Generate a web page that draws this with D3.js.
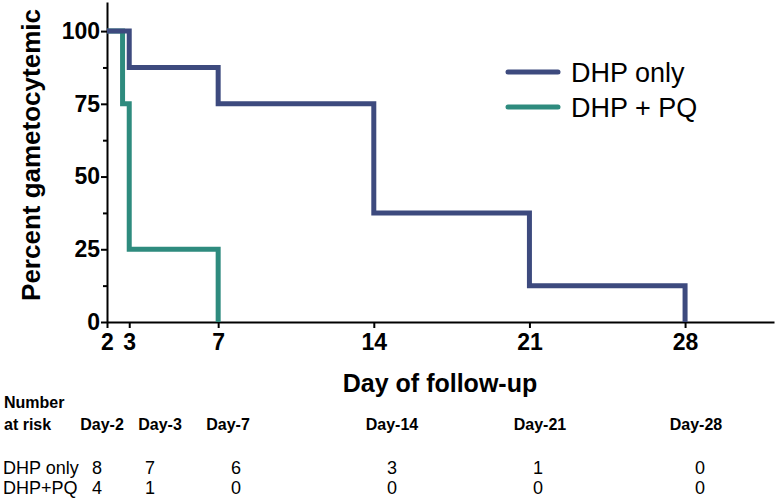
<!DOCTYPE html>
<html lang="en">
<head>
<meta charset="UTF-8">
<title>Gametocytemia follow-up</title>
<script src="https://cdn.jsdelivr.net/npm/d3@7"></script>
<style>
    body { margin: 0; background: #fff; }
    svg text { font-family: Arial, "Liberation Sans", Helvetica, sans-serif; fill: #000; }
    .axis path, .axis line { stroke: #000; stroke-width: 2px; }
    .axis text { font-size: 23px; font-weight: bold; }
</style>
</head>
<body>
<svg id="chart" width="776" height="499"></svg>
<script>
    // survival steps (day, percent)
    const dhpOnly = [[2, 100], [3, 87.5], [7, 75], [14, 37.5], [21, 12.5], [28, 0]];
    const dhpPq = [[2, 100], [2.7, 75], [3, 25], [7, 0]];
    const seriesNames = ["DHP only", "DHP + PQ"];
    const xTicks = [2, 3, 7, 14, 21, 28];
    const yTicks = [0, 25, 50, 75, 100];
    const yMinor = [12.5, 37.5, 62.5, 87.5];

    // number at risk table
    const riskDays = ["Day-2", "Day-3", "Day-7", "Day-14", "Day-21", "Day-28"];
    const riskGroups = ["DHP only", "DHP+PQ"];
    const riskDhp = [8, 7, 6, 3, 1, 0];
    const riskPq = [4, 1, 0, 0, 0, 0];

    const colors = ["#3d4a7e", "#2e8b7e"];

    const svg = d3.select("#chart");
    const x = d3.scaleLinear().domain([2, 32]).range([107, 774]);
    const y = d3.scaleLinear().domain([0, 110]).range([322, 2]);

    // axes
    svg.append("g")
        .attr("class", "axis")
        .attr("transform", "translate(0,322)")
        .call(d3.axisBottom(x).tickValues(xTicks).tickSize(6).tickSizeOuter(0).tickPadding(4))
        .selectAll("text").attr("dy", "0.78em");

    svg.append("g")
        .attr("class", "axis")
        .attr("transform", "translate(107,0)")
        .call(d3.axisLeft(y).tickValues(yTicks).tickSize(6).tickSizeOuter(0).tickPadding(1));

    svg.append("g")
        .attr("class", "axis")
        .attr("transform", "translate(107,0)")
        .call(d3.axisLeft(y).tickValues(yMinor).tickSize(4).tickFormat(""))
        .select(".domain").remove();

    // curves, teal underneath
    const line = d3.line()
        .x(d => x(d[0]))
        .y(d => y(d[1]))
        .curve(d3.curveStepAfter);

    [dhpPq, dhpOnly].forEach((s, i) => {
        svg.append("path")
            .datum(s)
            .attr("d", line)
            .attr("fill", "none")
            .attr("stroke", colors[1 - i])
            .attr("stroke-width", 5);
    });

    // axis titles
    svg.append("text")
        .attr("transform", "translate(40,155) rotate(-90)")
        .attr("text-anchor", "middle")
        .style("font-size", "26px")
        .style("font-weight", "bold")
        .text("Percent gametocytemic");

    svg.append("text")
        .attr("x", 440)
        .attr("y", 392)
        .attr("text-anchor", "middle")
        .style("font-size", "25px")
        .style("font-weight", "bold")
        .text("Day of follow-up");

    // legend
    const legend = svg.append("g").attr("transform", "translate(508,72)");
    seriesNames.forEach((name, i) => {
        const row = legend.append("g").attr("transform", `translate(0,${i * 35})`);
        row.append("line")
            .attr("x1", 0).attr("x2", 50)
            .attr("stroke", colors[i])
            .attr("stroke-width", 5)
            .attr("stroke-linecap", "round");
        row.append("text")
            .attr("x", 63)
            .attr("y", 10)
            .style("font-size", "27px")
            .text(name);
    });

    // number at risk
    const headX = [102, 160, 228, 392, 540, 696];
    const numX = [97, 150, 236, 392, 538, 700];

    svg.append("text").attr("x", 4).attr("y", 408)
        .style("font-size", "16px").style("font-weight", "bold").text("Number");
    svg.append("text").attr("x", 4).attr("y", 430)
        .style("font-size", "16px").style("font-weight", "bold").text("at risk");

    svg.selectAll(".riskhead")
        .data(riskDays)
        .join("text")
        .attr("x", (d, i) => headX[i])
        .attr("y", 430)
        .attr("text-anchor", "middle")
        .style("font-size", "16px")
        .style("font-weight", "bold")
        .text(d => d);

    [riskDhp, riskPq].forEach((vals, r) => {
        const yy = 474 + r * 20;
        svg.append("text").attr("x", 3).attr("y", yy)
            .style("font-size", "18px").text(riskGroups[r]);
        svg.selectAll(".risk" + r)
            .data(vals)
            .join("text")
            .attr("x", (d, i) => numX[i])
            .attr("y", yy)
            .attr("text-anchor", "middle")
            .style("font-size", "18px")
            .text(d => d);
    });
</script>
</body>
</html>
